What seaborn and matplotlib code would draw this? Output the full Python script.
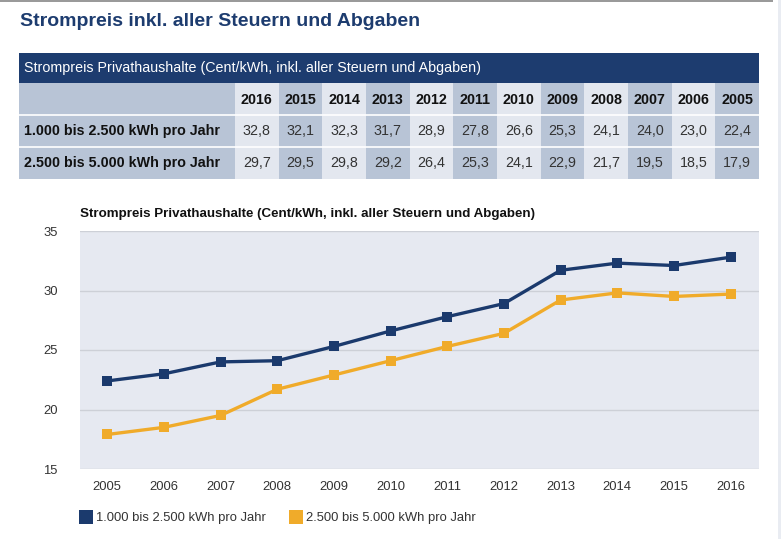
import matplotlib
matplotlib.use("Agg")
import matplotlib.pyplot as plt
import seaborn as sns
import pandas as pd
from matplotlib.patches import Rectangle
from matplotlib.lines import Line2D

# ---------------- data ----------------
years = [2005, 2006, 2007, 2008, 2009, 2010, 2011, 2012, 2013, 2014, 2015, 2016]
small_hh = [22.4, 23.0, 24.0, 24.1, 25.3, 26.6, 27.8, 28.9, 31.7, 32.3, 32.1, 32.8]
large_hh = [17.9, 18.5, 19.5, 21.7, 22.9, 24.1, 25.3, 26.4, 29.2, 29.8, 29.5, 29.7]
series_names = ["1.000 bis 2.500 kWh pro Jahr", "2.500 bis 5.000 kWh pro Jahr"]
page_title = "Strompreis inkl. aller Steuern und Abgaben"
chart_title = "Strompreis Privathaushalte (Cent/kWh, inkl. aller Steuern und Abgaben)"
y_ticks = [15, 20, 25, 30, 35]

NAVY = "#1b3a6d"
YELLOW = "#f0ab2a"
HEADER = "#1d3c6f"
DARKCOL = "#b8c4d6"
LIGHTCOL = "#e3e7ef"
PLOTBG = "#e6e9f1"

sns.set_theme(style="white")
plt.rcParams["font.family"] = ["Liberation Sans", "DejaVu Sans"]

W, H = 781, 539
fig = plt.figure(figsize=(W / 100, H / 100), dpi=100)
fig.patch.set_facecolor("white")

# overlay axes in pixel coordinates for page elements / table
ov = fig.add_axes([0, 0, 1, 1])
ov.set_xlim(0, W)
ov.set_ylim(H, 0)
ov.axis("off")
ov.set_zorder(-1)

# page frame
ov.add_patch(Rectangle((0, 0), 773, 1.5, color="#9a9a9a", lw=0))
ov.add_patch(Rectangle((777.5, 0), 4, H, color="#e9ecf2", lw=0))

# page title
ov.text(20, 21, page_title, fontsize=14.0, fontweight="bold", color=HEADER,
        va="center", ha="left")

# ---------------- table ----------------
tx0, tx1 = 19, 759
label_w = 235 - tx0
col_w = (tx1 - 235) / len(years)
rows_y = [53, 83, 115, 147, 179]
FS = 10.3
ov.add_patch(Rectangle((tx0, rows_y[0]), tx1 - tx0, rows_y[1] - rows_y[0], color=HEADER, lw=0))
ov.text(24, (rows_y[0] + rows_y[1]) / 2, chart_title, color="white", fontsize=FS,
        va="center", ha="left")
ov.add_patch(Rectangle((tx0, rows_y[1]), label_w, rows_y[4] - rows_y[1], color=DARKCOL, lw=0))
table_years = years[::-1]
table_rows = [small_hh[::-1], large_hh[::-1]]
for i, yr in enumerate(table_years):
    cx = 235 + i * col_w
    c = LIGHTCOL if i % 2 == 0 else DARKCOL
    ov.add_patch(Rectangle((cx, rows_y[1]), col_w, rows_y[4] - rows_y[1], color=c, lw=0))
    ov.text(cx + col_w / 2, (rows_y[1] + rows_y[2]) / 2 + 1, str(yr), fontsize=FS,
            fontweight="bold", color="#111111", ha="center", va="center")
    for r, vals in enumerate(table_rows):
        ov.text(cx + col_w / 2, (rows_y[r + 2] + rows_y[r + 3]) / 2, f"{vals[i]:.1f}".replace(".", ","),
                fontsize=FS, color="#333333", ha="center", va="center")
for r, name in enumerate(series_names):
    ov.text(24, (rows_y[r + 2] + rows_y[r + 3]) / 2, name, fontsize=FS, fontweight="bold",
            color="#111111", ha="left", va="center")
for y in rows_y[2:4]:
    ov.plot([tx0, tx1], [y, y], color="white", lw=1.2)

# ---------------- chart ----------------
px0, px1, py0, py1 = 80, 759, 231, 469
ax = fig.add_axes([px0 / W, 1 - py1 / H, (px1 - px0) / W, (py1 - py0) / H])
ax.set_facecolor(PLOTBG)

df = pd.DataFrame({
    "Jahr": years * 2,
    "Wert": small_hh + large_hh,
    "Serie": [series_names[0]] * len(years) + [series_names[1]] * len(years),
})
sns.lineplot(data=df, x="Jahr", y="Wert", hue="Serie", palette=[NAVY, YELLOW],
             marker="s", markersize=6.5, markeredgewidth=0, linewidth=2.4, ax=ax, legend=False)

ax.set_xlim(years[0] - 0.48, years[-1] + 0.5)
ax.set_ylim(15, 35)
ax.set_yticks(y_ticks)
ax.set_xticks(years)
ax.set_xticklabels([str(y) for y in years])
for y in y_ticks:
    ax.axhline(y, color="#cdd0d7", lw=1, zorder=0)
for s in ax.spines.values():
    s.set_visible(False)
ax.tick_params(axis="both", length=0, labelsize=9.4, labelcolor="#333333")
ax.tick_params(axis="x", pad=9)
ax.tick_params(axis="y", pad=16)
ax.set_xlabel("")
ax.set_ylabel("")

ov.text(80, 214, chart_title, fontsize=9.6, fontweight="bold", color="#111111",
        ha="left", va="center")

# legend
handles = [Line2D([], [], marker="s", linestyle="none", markersize=9.5, color=c, markeredgewidth=0)
           for c in (NAVY, YELLOW)]
leg = fig.legend(handles, series_names, loc="center left", bbox_to_anchor=(76 / W, 1 - 518 / H),
                 frameon=False, ncol=2, fontsize=9.4, handlelength=0.8, handletextpad=0.35,
                 columnspacing=1.9, borderaxespad=0)
for t in leg.get_texts():
    t.set_color("#333333")

fig.savefig("out.png", dpi=100, facecolor="white")
